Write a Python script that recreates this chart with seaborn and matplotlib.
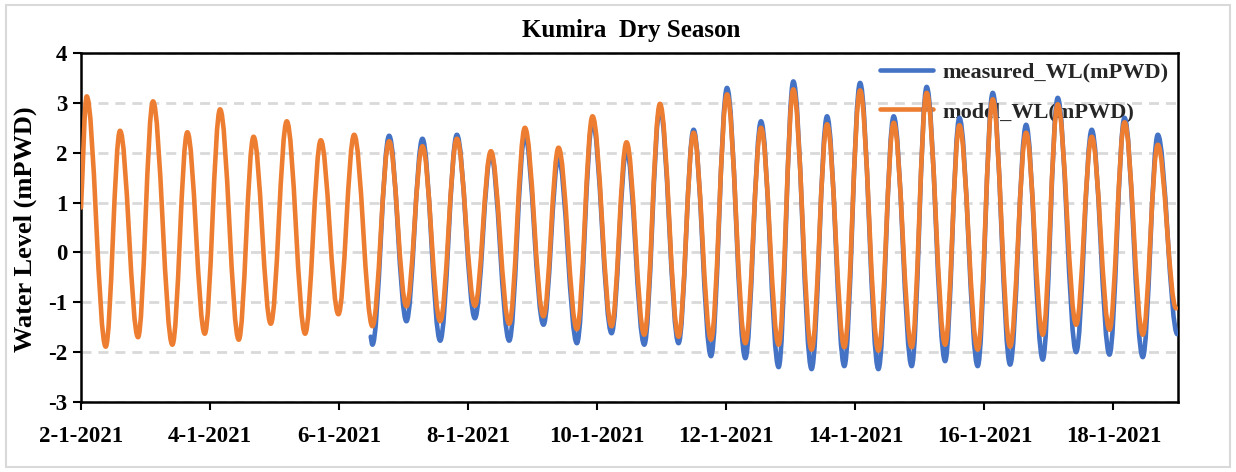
import numpy as np
import pandas as pd
import matplotlib
matplotlib.use("Agg")
import matplotlib.pyplot as plt
import seaborn as sns
from matplotlib.path import Path
from matplotlib.patches import PathPatch, Rectangle
from matplotlib.lines import Line2D

sns.set_theme(style="white")
plt.rcParams['font.family'] = ['Liberation Serif', 'DejaVu Serif']
plt.rcParams['font.weight'] = 'bold'
plt.rcParams['axes.unicode_minus'] = False

# ---------------- data (days after 2-1-2021 00:00, water level mPWD) ----------------
title = "Kumira  Dry Season"
ylabel = "Water Level (mPWD)"
series_names = ["measured_WL(mPWD)", "model_WL(mPWD)"]
tick_days = [0, 2, 4, 6, 8, 10, 12, 14, 16]
tick_labels = ["2-1-2021", "4-1-2021", "6-1-2021", "8-1-2021", "10-1-2021",
               "12-1-2021", "14-1-2021", "16-1-2021", "18-1-2021"]

peak_days = [0.088, 0.605, 1.116, 1.648, 2.155, 2.674, 3.189, 3.716, 4.233, 4.775, 5.291,
             5.825, 6.352, 6.879, 7.400, 7.927, 8.454, 8.972, 9.493, 10.011, 10.538, 11.039,
             11.561, 12.073, 12.594, 13.105, 13.612, 14.129, 14.646, 15.136, 15.663, 16.171, 16.687]
trough_days = [0.383, 0.884, 1.416, 1.918, 2.445, 2.941, 3.473, 3.989, 4.516, 5.043, 5.566,
               6.104, 6.636, 7.167, 7.685, 8.222, 8.729, 9.260, 9.763, 10.295, 10.811, 11.322,
               11.829, 12.357, 12.873, 13.391, 13.896, 14.398, 14.904, 15.422, 15.938, 16.454, 16.97]

model_start_day = 0.0
model_start_level = 0.9
model_peaks = [3.13, 2.44, 3.03, 2.41, 2.87, 2.32, 2.63, 2.25, 2.36, 2.23, 2.13, 2.28, 2.03,
               2.50, 2.10, 2.73, 2.21, 2.98, 2.40, 3.17, 2.50, 3.27, 2.57, 3.25, 2.60, 3.20,
               2.55, 3.07, 2.40, 2.97, 2.32, 2.61, 2.16]
model_troughs = [-1.89, -1.70, -1.85, -1.63, -1.75, -1.43, -1.63, -1.24, -1.48, -1.08, -1.38,
                 -1.07, -1.43, -1.28, -1.54, -1.48, -1.65, -1.69, -1.75, -1.82, -1.85, -1.95,
                 -1.90, -1.97, -1.90, -1.85, -1.95, -1.89, -1.65, -1.45, -1.55, -1.65, -1.12]

measured_start_day = 4.49
measured_start_level = -1.69
measured_peaks = [2.34, 2.28, 2.36, 1.97, 2.36, 1.90, 2.63, 2.06, 2.90, 2.46, 3.30, 2.63,
                  3.43, 2.73, 3.40, 2.73, 3.32, 2.70, 3.20, 2.56, 3.10, 2.46, 2.70, 2.36]
measured_troughs = [-1.85, -1.38, -1.77, -1.32, -1.77, -1.45, -1.82, -1.62, -1.85, -1.82,
                    -2.08, -2.12, -2.30, -2.34, -2.28, -2.34, -2.28, -2.18, -2.28, -2.25,
                    -2.15, -2.00, -2.05, -2.10]
measured_end_day = 16.99
measured_end_level = -1.64

colors = ["#4472C4", "#ED7D31"]

# ---------------- assemble extrema tables ----------------
model = pd.DataFrame({
    "day": [model_start_day] + peak_days + trough_days,
    "level": [model_start_level] + model_peaks + model_troughs,
}).sort_values("day").reset_index(drop=True)

n_meas = len(measured_peaks)
meas = pd.DataFrame({
    "day": [measured_start_day] + trough_days[8:8 + n_meas] + peak_days[9:9 + n_meas] + [measured_end_day],
    "level": [measured_start_level] + measured_troughs + measured_peaks + [measured_end_level],
}).sort_values("day").reset_index(drop=True)


def smooth_path(t, v, k=0.3634):
    """Smooth (Excel-like) Bezier path through the read extrema, horizontal tangents at extrema."""
    verts = [(t[0], v[0])]
    codes = [Path.MOVETO]
    for i in range(len(t) - 1):
        dt = t[i + 1] - t[i]
        if i == 0:
            c1 = (t[0] + dt / 3, v[0] + (v[1] - v[0]) / 3)
        else:
            c1 = (t[i] + k * dt, v[i])
        c2 = (t[i + 1] - k * dt, v[i + 1])
        verts += [c1, c2, (t[i + 1], v[i + 1])]
        codes += [Path.CURVE4] * 3
    return Path(verts, codes)


fig = plt.figure(figsize=(12.36, 4.72), dpi=100)
fig.patch.set_facecolor("white")
L, R, T, B = 81, 1178, 53, 402
ax = fig.add_axes([L / 1236, 1 - B / 472, (R - L) / 1236, (B - T) / 472])

lw = 3.3
for df, c, z in [(meas, colors[0], 3), (model, colors[1], 4)]:
    p = PathPatch(smooth_path(df["day"].values, df["level"].values), facecolor="none",
                  edgecolor=c, lw=lw, capstyle="round", joinstyle="round", zorder=z)
    ax.add_patch(p)

ax.set_xlim(0, 17)
ax.set_ylim(-3, 4)
ax.set_yticks(range(-3, 5))
ax.set_xticks(tick_days)
ax.set_xticklabels(tick_labels)
ax.yaxis.grid(True, color="#D9D9D9", linestyle=(0, (3.6, 2.5)), lw=2, zorder=0)
ax.xaxis.grid(False)
ax.set_axisbelow(True)
for s in ax.spines.values():
    s.set_visible(True)
    s.set_color("black")
    s.set_linewidth(1.8)
ax.tick_params(axis="both", which="both", bottom=True, left=True, direction="out",
               length=6, width=1.5, color="black", labelsize=16.5, labelcolor="black")
ax.tick_params(axis="x", pad=11)
ax.tick_params(axis="y", pad=4)

fig.text(631 / 1236, 1 - 31 / 472, title, ha="center", va="center", fontsize=18,
         fontweight="bold", color="black")
fig.text(25 / 1236, 1 - 229 / 472, ylabel, ha="center", va="center", rotation=90,
         fontsize=19, fontweight="bold", color="black")

handles = [Line2D([], [], color=colors[0], lw=lw), Line2D([], [], color=colors[1], lw=lw)]
leg = ax.legend(handles, series_names, loc="upper left",
                bbox_to_anchor=((880 - L) / (R - L), (B - 62) / (B - T)),
                frameon=False, fontsize=16, borderpad=0, borderaxespad=0,
                handlelength=2.4, handletextpad=0.4, labelspacing=0.85)
leg.set_zorder(2)

fig.patches.append(Rectangle((6 / 1236, 5 / 472), (1230 - 6) / 1236, (467 - 5) / 472,
                             transform=fig.transFigure, fill=False, edgecolor="#D9D9D9",
                             lw=1.5, zorder=0))

fig.savefig("out.png", dpi=100)
